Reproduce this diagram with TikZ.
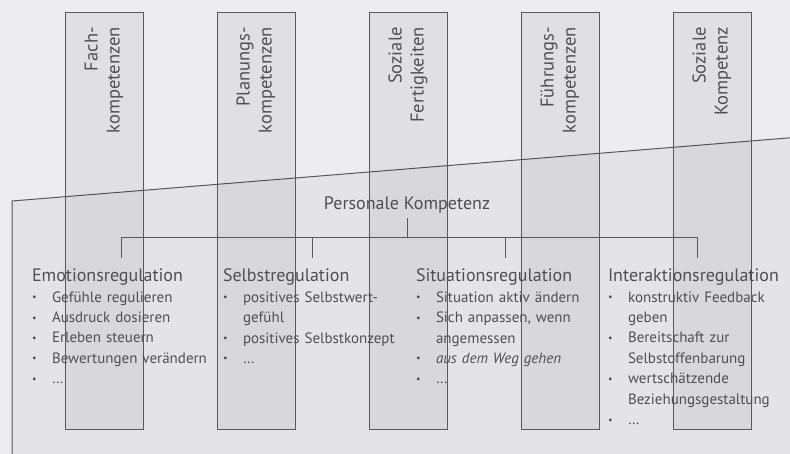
\documentclass[tikz,border=0pt]{standalone}
\usepackage{fontspec}
\setmainfont{PT Sans}
\usepackage{xcolor}
\definecolor{pagegray}{HTML}{EDEDF1}
\definecolor{inkgray}{HTML}{4E4E54}
\definecolor{linegray}{HTML}{58585C}
\usetikzlibrary{positioning,calc}
\tikzset{
  colbox/.style ={draw=linegray, line width=1pt, fill=black, fill opacity=0.05,
                  minimum width=78pt, minimum height=416pt, anchor=north, inner sep=0pt},
  coltext/.style={rotate=90, anchor=east, align=right, text=inkgray, inner sep=0pt,
                  font=\fontsize{18.5}{22}\selectfont},
  plane/.style  ={draw=linegray, line width=1pt, fill=black, fill opacity=0.035},
  pktext/.style ={text=inkgray, inner sep=4pt, font=\fontsize{18}{21}\selectfont},
  regbox/.style ={text=inkgray, text width=178pt, align=left, inner sep=0pt,
                  outer xsep=0pt, outer ysep=11pt, anchor=north west,
                  font=\fontsize{15}{20.4}\selectfont},
  tree/.style   ={draw=linegray, line width=1pt},
}
\newcommand{\regtitle}[1]{{\fontsize{18}{20.4}\selectfont #1}}
\newcommand{\regitem}[1]{\makebox[20pt][l]{\raisebox{0.2ex}{\fontsize{10}{10}\selectfont\textbullet}}#1}
\newcommand{\regcont}[1]{\hspace*{20pt}#1}

\begin{document}
\begin{tikzpicture}[x=1pt, y=-1pt]
  \fill[pagegray] (0,0) rectangle (790,454);
  \useasboundingbox (0,0) rectangle (790,454);
  \clip (0,0) rectangle (790,454);
  % personale kompetenz plane
  \path[plane] (12,470) -- (12,201) -- (800,137) -- (800,470) -- cycle;
  % five competence columns
  \node[colbox] (fach)    at (104,12.5) {};
  \node[colbox] (plan)    at (256,12.5) {};
  \node[colbox] (sozfert) at (408,12.5) {};
  \node[colbox] (fuehr)   at (560,12.5) {};
  \node[colbox] (sozkomp) at (712,12.5) {};
  \node[coltext] at ([yshift=-14.5pt]fach.north)    {Fach-\\kompetenzen};
  \node[coltext] at ([yshift=-14.5pt]plan.north)    {Planungs-\\kompetenzen};
  \node[coltext] at ([yshift=-14.5pt]sozfert.north) {Soziale\\Fertigkeiten};
  \node[coltext] at ([yshift=-14.5pt]fuehr.north)   {Führungs-\\kompetenzen};
  \node[coltext] at ([yshift=-14.5pt]sozkomp.north) {Soziale\\Kompetenz};

  \node[pktext, anchor=base] (pk) at (407,210) {Personale Kompetenz};

  \node[regbox] (emo) at (32,258) {\regtitle{Emotionsregulation}\\
    \regitem{Gefühle regulieren}\\
    \regitem{Ausdruck dosieren}\\
    \regitem{Erleben steuern}\\
    \regitem{Bewertungen verändern}\\
    \regitem{…}};
  \node[regbox] (selbst) at (223,258) {\regtitle{Selbstregulation}\\
    \regitem{positives Selbstwert-}\\
    \regcont{gefühl}\\
    \regitem{positives Selbstkonzept}\\
    \regitem{…}};
  \node[regbox] (sit) at (416,258) {\regtitle{Situationsregulation}\\
    \regitem{Situation aktiv ändern}\\
    \regitem{Sich anpassen, wenn}\\
    \regcont{angemessen}\\
    \regitem{\textit{aus dem Weg gehen}}\\
    \regitem{…}};
  \node[regbox] (inter) at (608,258) {\regtitle{Interaktionsregulation}\\
    \regitem{konstruktiv Feedback}\\
    \regcont{geben}\\
    \regitem{Bereitschaft zur}\\
    \regcont{Selbstoffenbarung}\\
    \regitem{wertschätzende}\\
    \regcont{Beziehungsgestaltung}\\
    \regitem{…}};

  \draw[tree] (emo.north) -- ++(0,-20) coordinate (bar) -| (inter.north);
  \draw[tree] (selbst.north) -- (selbst.north |- bar);
  \draw[tree] (sit.north) -- (sit.north |- bar);
  \draw[tree] (pk.south) -- (pk.south |- bar);
\end{tikzpicture}
\end{document}
